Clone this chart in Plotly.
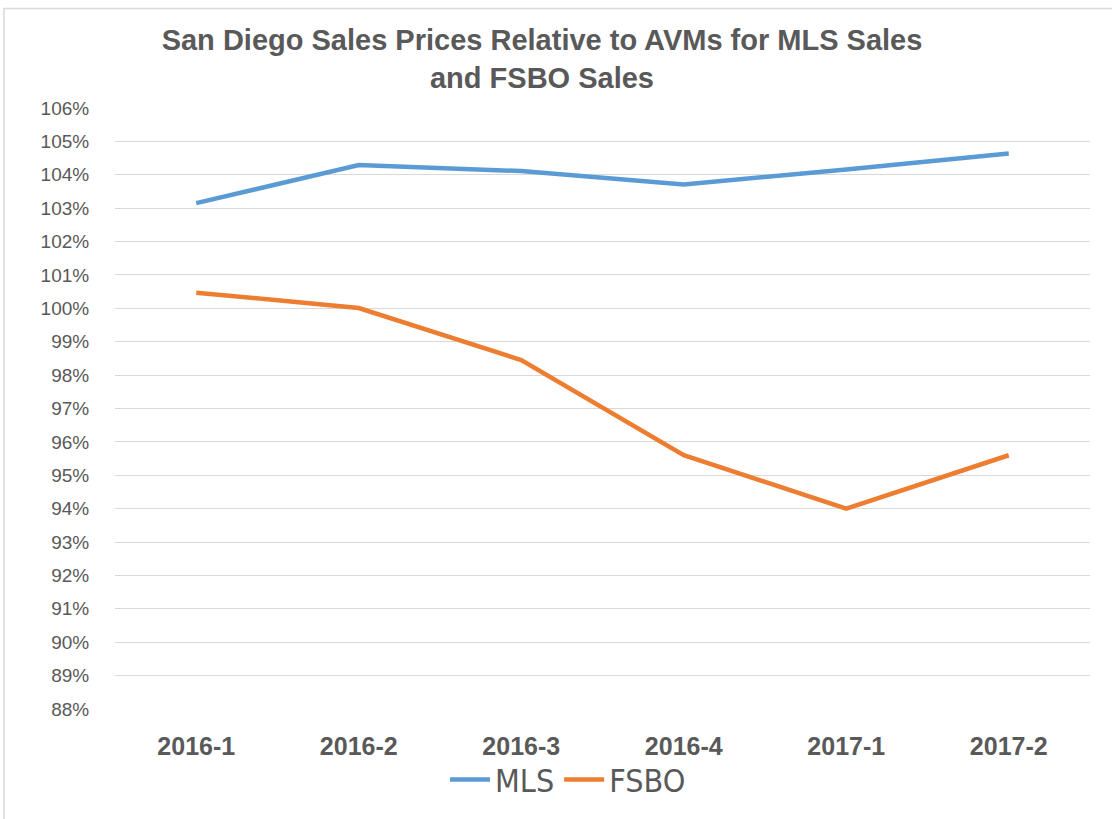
import plotly.graph_objects as go

categories = ["2016-1", "2016-2", "2016-3", "2016-4", "2017-1", "2017-2"]
mls = [1.0315, 1.0429, 1.0411, 1.0371, 1.0416, 1.0464]
fsbo = [1.0047, 1.0001, 0.9845, 0.9560, 0.9400, 0.9560]
y_ticks = [0.88 + i * 0.01 for i in range(19)]

title_text = "San Diego Sales Prices Relative to AVMs for MLS Sales<br>and FSBO Sales"

fig = go.Figure()
fig.add_trace(go.Scatter(x=categories, y=mls, mode="lines", name="MLS",
                         line=dict(color="#5B9BD5", width=4.5)))
fig.add_trace(go.Scatter(x=categories, y=fsbo, mode="lines", name="FSBO",
                         line=dict(color="#ED7D31", width=4.5)))

W, H = 1112, 819
L, R, T, B = 115, 22, 108, 107
pw, ph = W - L - R, H - T - B

def px_x(p):
    return (p - L) / pw

def px_y(p):
    return (H - B - p) / ph

fig.update_layout(
    width=W, height=H,
    margin=dict(l=L, r=R, t=T, b=B),
    paper_bgcolor="white", plot_bgcolor="white",
    title=dict(text=title_text, x=(542 - L) / pw, xref="paper", xanchor="center",
               y=1 - 50 / H, yanchor="middle", yref="container",
               font=dict(family="Liberation Sans", size=29, color="#595959", weight="bold")),
    font=dict(family="Liberation Sans", color="#595959"),
    xaxis=dict(type="category", showgrid=False, showline=False, zeroline=False,
               ticks="outside", ticklen=15, tickcolor="rgba(0,0,0,0)",
               tickfont=dict(size=25, color="#595959", weight="bold"),
               range=[-0.5, 5.5]),
    yaxis=dict(range=[0.88, 1.06], tickvals=y_ticks, tickformat=".0%",
               showgrid=True, gridcolor="#D9D9D9", gridwidth=1.3,
               zeroline=False, showline=False,
               ticks="outside", ticklen=21, tickcolor="rgba(0,0,0,0)",
               tickfont=dict(size=19, color="#595959")),
    legend=dict(orientation="h", x=px_x(568), xanchor="center", y=px_y(783), yanchor="middle",
                font=dict(size=32, color="#595959",
                          family="Liberation Sans Narrow, DejaVu Sans Condensed, Liberation Sans"),
                itemwidth=40, tracegroupgap=0, bgcolor="rgba(0,0,0,0)"),
    showlegend=True,
    shapes=[dict(type="rect", xref="paper", yref="paper",
                 x0=px_x(4), x1=px_x(1118), y0=px_y(825), y1=px_y(8),
                 line=dict(color="#D9D9D9", width=1.5), layer="below")],
)

fig.write_html("out.html", config={"displayModeBar": False},
               post_script="document.body.style.margin='0';")
